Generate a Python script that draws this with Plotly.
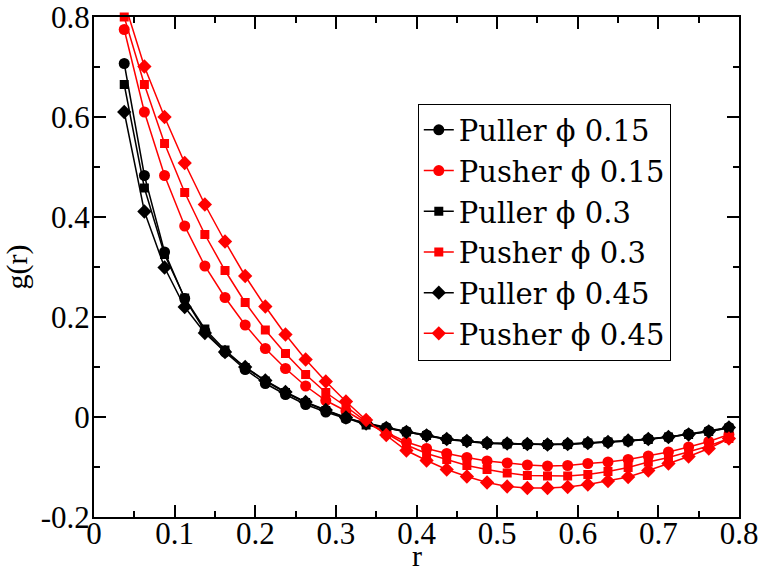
import plotly.graph_objects as go

# radial bin centres
r = [0.0375, 0.0625, 0.0875, 0.1125, 0.1375, 0.1625, 0.1875, 0.2125, 0.2375, 0.2625,
     0.2875, 0.3125, 0.3375, 0.3625, 0.3875, 0.4125, 0.4375, 0.4625, 0.4875, 0.5125,
     0.5375, 0.5625, 0.5875, 0.6125, 0.6375, 0.6625, 0.6875, 0.7125, 0.7375, 0.7625,
     0.7875]

puller_015 = [0.707, 0.483, 0.330, 0.237, 0.172, 0.130, 0.095, 0.067, 0.045, 0.025,
              0.010, -0.003, -0.012, -0.021, -0.029, -0.036, -0.044, -0.048, -0.052, -0.053,
              -0.054, -0.055, -0.054, -0.052, -0.050, -0.048, -0.044, -0.040, -0.034, -0.028,
              -0.021]
pusher_015 = [0.775, 0.610, 0.483, 0.382, 0.302, 0.239, 0.184, 0.137, 0.097, 0.062,
              0.033, 0.012, -0.012, -0.031, -0.050, -0.063, -0.073, -0.081, -0.088, -0.092,
              -0.096, -0.098, -0.097, -0.093, -0.090, -0.085, -0.078, -0.070, -0.060, -0.049,
              -0.035]
puller_03 = [0.665, 0.458, 0.325, 0.238, 0.176, 0.134, 0.099, 0.072, 0.049, 0.029,
             0.013, -0.002, -0.016, -0.022, -0.030, -0.037, -0.045, -0.049, -0.053, -0.054,
             -0.055, -0.055, -0.055, -0.052, -0.050, -0.048, -0.045, -0.040, -0.035, -0.029,
             -0.022]
pusher_03 = [0.800, 0.665, 0.547, 0.449, 0.365, 0.293, 0.229, 0.174, 0.127, 0.085,
             0.049, 0.021, -0.009, -0.033, -0.056, -0.073, -0.085, -0.097, -0.105, -0.112,
             -0.117, -0.118, -0.118, -0.115, -0.109, -0.101, -0.090, -0.081, -0.069, -0.058,
             -0.043]
puller_045 = [0.610, 0.411, 0.299, 0.220, 0.168, 0.130, 0.100, 0.073, 0.050, 0.030,
              0.014, -0.001, -0.013, -0.022, -0.030, -0.037, -0.044, -0.048, -0.052, -0.053,
              -0.054, -0.055, -0.054, -0.052, -0.050, -0.047, -0.044, -0.040, -0.035, -0.029,
              -0.021]
pusher_045 = [0.830, 0.701, 0.600, 0.508, 0.425, 0.351, 0.282, 0.221, 0.165, 0.115,
              0.071, 0.031, -0.006, -0.036, -0.067, -0.087, -0.105, -0.119, -0.131, -0.139,
              -0.142, -0.142, -0.140, -0.135, -0.128, -0.120, -0.107, -0.093, -0.079, -0.063,
              -0.043]

x_tickvals = [0, 0.1, 0.2, 0.3, 0.4, 0.5, 0.6, 0.7, 0.8]
x_ticktext = ["0", "0.1", "0.2", "0.3", "0.4", "0.5", "0.6", "0.7", "0.8"]
y_tickvals = [-0.2, 0, 0.2, 0.4, 0.6, 0.8]
y_ticktext = ["-0.2", "0", "0.2", "0.4", "0.6", "0.8"]

FONT = "Liberation Serif"
LEGEND_FONT = "DejaVu Serif"

series = [
    ("Puller \u03d5 0.15", puller_015, "black", "circle", 11, True),
    ("Pusher \u03d5 0.15", pusher_015, "red", "circle", 11, True),
    ("Puller \u03d5 0.3", puller_03, "black", "square", 9, True),
    ("Pusher \u03d5 0.3", pusher_03, "red", "square", 9, False),
    ("Puller \u03d5 0.45", puller_045, "black", "diamond", 11, True),
    ("Pusher \u03d5 0.45", pusher_045, "red", "diamond", 11, True),
]

fig = go.Figure()
for name, ys, color, symbol, size, clip in series:
    fig.add_trace(go.Scatter(
        x=r, y=ys, name=name, mode="lines+markers",
        line=dict(color=color, width=1.5),
        marker=dict(color=color, symbol=symbol, size=size),
        cliponaxis=clip,
    ))

axis_common = dict(
    showgrid=False, zeroline=False, automargin=False, ticklabeloverflow="allow",
    showline=True, linecolor="black", linewidth=2, mirror="ticks",
    ticks="inside", ticklen=12, tickwidth=1.5, tickcolor="black",
    tickfont=dict(family=FONT, size=31, color="black"),
)

fig.update_xaxes(
    range=[0, 0.8], tickvals=x_tickvals, ticktext=x_ticktext,
    minor=dict(ticks="inside", ticklen=6, tickwidth=1.5, tickcolor="black", dtick=0.05),
    ticklabelstandoff=-12,
    **axis_common,
)
fig.update_yaxes(
    range=[-0.2, 0.8], tickvals=y_tickvals, ticktext=y_ticktext,
    minor=dict(ticks="inside", ticklen=6, tickwidth=1.5, tickcolor="black", dtick=0.1),
    ticklabelstandoff=-4,
    title=dict(text="g(r)", font=dict(family=FONT, size=30, color="black"), standoff=4),
    **axis_common,
)

# x-axis title placed just under the tick labels
fig.add_annotation(
    text="r", xref="paper", yref="paper", x=0.5, y=-0.076,
    xanchor="center", yanchor="middle", showarrow=False,
    font=dict(family=FONT, size=30, color="black"),
)

fig.update_layout(
    width=762, height=571,
    margin=dict(l=94, r=23, t=17, b=54),
    paper_bgcolor="white", plot_bgcolor="white",
    font=dict(family=FONT, color="black"),
    legend=dict(
        x=0.502, y=0.827, xanchor="left", yanchor="top",
        bordercolor="black", borderwidth=1, bgcolor="white",
        font=dict(family=LEGEND_FONT, size=29, color="black"),
        itemwidth=30, tracegroupgap=0,
    ),
)

fig.write_html("out.html")
